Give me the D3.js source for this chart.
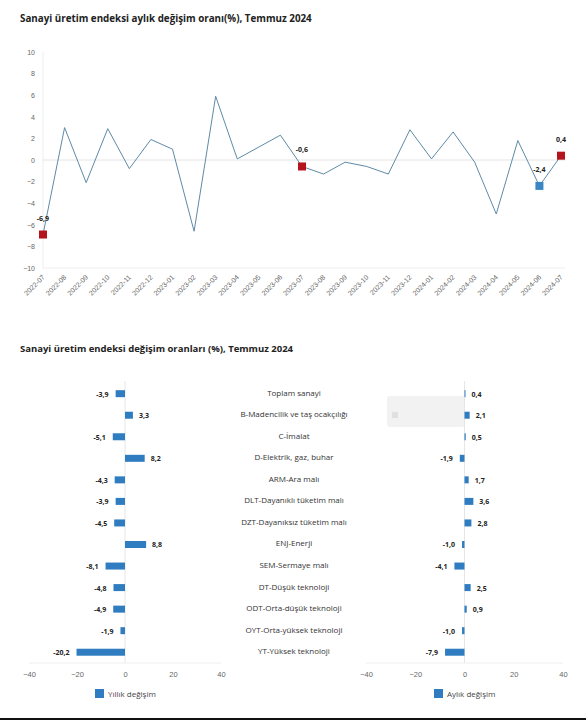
<!DOCTYPE html>
<html>
<head>
<meta charset="utf-8">
<script src="https://cdn.jsdelivr.net/npm/d3@7"></script>
<style>
  body { margin: 0; background: #fff; }
  svg { display: block; font-family: "Open Sans", "Noto Sans", sans-serif; }
</style>
</head>
<body>
<div id="chart"></div>
<script>
// monthly series (top chart)
const months = ['2022-07','2022-08','2022-09','2022-10','2022-11','2022-12','2023-01','2023-02','2023-03','2023-04','2023-05','2023-06','2023-07','2023-08','2023-09','2023-10','2023-11','2023-12','2024-01','2024-02','2024-03','2024-04','2024-05','2024-06','2024-07'];
const monthlyChange = [-6.9, 3.0, -2.1, 2.9, -0.8, 1.9, 1.0, -6.6, 5.9, 0.1, 1.2, 2.3, -0.6, -1.3, -0.2, -0.6, -1.3, 2.8, 0.1, 2.6, -0.2, -5.0, 1.8, -2.4, 0.4];
// highlighted points: month, colour
const markedMonths = ['2022-07', '2023-07', '2024-06', '2024-07'];
const markedColors = ['#b5141c', '#b5141c', '#3a85c4', '#b5141c'];
const yTicksTop = [-10, -8, -6, -4, -2, 0, 2, 4, 6, 8, 10];

// sector breakdown (bottom chart)
const sectors = ['Toplam sanayi', 'B-Madencilik ve taş ocakçılığı', 'C-İmalat', 'D-Elektrik, gaz, buhar', 'ARM-Ara malı', 'DLT-Dayanıklı tüketim malı', 'DZT-Dayanıksız tüketim malı', 'ENJ-Enerji', 'SEM-Sermaye malı', 'DT-Düşük teknoloji', 'ODT-Orta-düşük teknoloji', 'OYT-Orta-yüksek teknoloji', 'YT-Yüksek teknoloji'];
const yearly = [-3.9, 3.3, -5.1, 8.2, -4.3, -3.9, -4.5, 8.8, -8.1, -4.8, -4.9, -1.9, -20.2];
const monthly = [0.4, 2.1, 0.5, -1.9, 1.7, 3.6, 2.8, -1.0, -4.1, 2.5, 0.9, -1.0, -7.9];
const xTicksBottom = [-40, -20, 0, 20, 40];

const w = 586, h = 720;
const barColor = '#2f7dc0';
const grid = '#e6e6e6';

const fmt = d3.formatLocale({decimal: ',', thousands: '.', grouping: [3], currency: ['', ''], minus: '-'}).format('.1f');

const svg = d3.select('#chart').append('svg')
  .attr('width', w).attr('height', h);

//---------------- top line chart ----------------
svg.append('text')
  .attr('x', 20).attr('y', 22)
  .attr('font-size', 9.8).attr('font-weight', 'bold').attr('fill', '#222')
  .text('Sanayi üretim endeksi aylık değişim oranı(%), Temmuz 2024');

const x = d3.scalePoint().domain(months).range([43, 561]);
const y = d3.scaleLinear().domain([-10, 10]).range([268, 52]);

// axis lines
svg.append('line').attr('x1', 43).attr('x2', 43).attr('y1', y(10)).attr('y2', y(-10))
  .attr('stroke', '#eeeeee');
svg.append('line').attr('x1', 43).attr('x2', 565).attr('y1', y(-10)).attr('y2', y(-10))
  .attr('stroke', '#eeeeee');
svg.append('line').attr('x1', 43).attr('x2', 565).attr('y1', y(0)).attr('y2', y(0))
  .attr('stroke', '#e4e4e4');

const yAxis = svg.append('g')
  .attr('transform', 'translate(35,0)')
  .call(d3.axisLeft(y).tickValues(yTicksTop).tickSize(0).tickPadding(0));
yAxis.select('.domain').remove();
yAxis.selectAll('text').attr('font-size', 7).attr('fill', '#666').attr('font-family', null);

const xAxis = svg.append('g')
  .attr('transform', `translate(0,${y(-10) + 8})`)
  .call(d3.axisBottom(x).tickSize(0).tickPadding(0));
xAxis.select('.domain').remove();
xAxis.selectAll('text')
  .attr('font-size', 7).attr('fill', '#666').attr('font-family', null)
  .attr('text-anchor', 'end')
  .attr('dy', '0.35em')
  .attr('transform', 'rotate(-45)');

const line = d3.line()
  .x((d, i) => x(months[i]))
  .y(d => y(d));

svg.append('path')
  .datum(monthlyChange)
  .attr('d', line)
  .attr('fill', 'none')
  .attr('stroke', '#5e8aa6')
  .attr('stroke-width', 1);

markedMonths.forEach((m, k) => {
  const v = monthlyChange[months.indexOf(m)];
  svg.append('rect')
    .attr('x', x(m) - 4).attr('y', y(v) - 4)
    .attr('width', 8).attr('height', 8)
    .attr('fill', markedColors[k]);
  svg.append('text')
    .attr('x', x(m)).attr('y', y(v) - 14)
    .attr('text-anchor', 'middle')
    .attr('font-size', 7).attr('font-weight', 'bold').attr('fill', '#222')
    .text(fmt(v));
});

//---------------- bottom bar charts ----------------
svg.append('text')
  .attr('x', 20).attr('y', 352)
  .attr('font-size', 9.5).attr('font-weight', 'bold').attr('fill', '#222')
  .text('Sanayi üretim endeksi değişim oranları (%), Temmuz 2024');

const yb = d3.scaleBand().domain(sectors).range([382.9, 663]);
const xl = d3.scaleLinear().domain([-40, 40]).range([29, 221]);
const xr = d3.scaleLinear().domain([-40, 40]).range([366, 563]);
const barH = 7;

// faint leftover tooltip box
svg.append('rect')
  .attr('x', 387).attr('y', 396).attr('width', 78).attr('height', 31).attr('rx', 3)
  .attr('fill', '#f2f2f2');
svg.append('rect')
  .attr('x', 392).attr('y', 412).attr('width', 6).attr('height', 6)
  .attr('fill', '#e0e0e0');

function panel(xs, values, legend) {
  const g = svg.append('g');
  g.append('line').attr('x1', xs(0)).attr('x2', xs(0)).attr('y1', 381).attr('y2', 663)
    .attr('stroke', grid);
  g.append('line').attr('x1', xs(-40)).attr('x2', xs(40)).attr('y1', 663).attr('y2', 663)
    .attr('stroke', '#eeeeee');

  const ax = g.append('g')
    .attr('transform', 'translate(0,672)')
    .call(d3.axisBottom(xs).tickValues(xTicksBottom).tickSize(0).tickPadding(0));
  ax.select('.domain').remove();
  ax.selectAll('text').attr('font-size', 7.5).attr('fill', '#666').attr('font-family', null);

  g.selectAll('rect.bar')
    .data(values)
    .enter()
    .append('rect')
    .attr('class', 'bar')
    .attr('x', d => xs(Math.min(0, d)))
    .attr('y', (d, i) => yb(sectors[i]) + yb.bandwidth() / 2 - barH / 2)
    .attr('width', d => Math.max(1, Math.abs(xs(d) - xs(0))))
    .attr('height', barH)
    .attr('fill', barColor);

  g.selectAll('text.val')
    .data(values)
    .enter()
    .append('text')
    .attr('class', 'val')
    .attr('x', d => d < 0 ? xs(d) - 7 : xs(d) + 6)
    .attr('y', (d, i) => yb(sectors[i]) + yb.bandwidth() / 2 + 3)
    .attr('text-anchor', d => d < 0 ? 'end' : 'start')
    .attr('font-size', 7).attr('font-weight', 'bold').attr('fill', '#222')
    .text(d => fmt(d));

  const lx = xs(-40) + 66 + (xs === xr ? 2 : 0);
  g.append('rect').attr('x', lx).attr('y', 689).attr('width', 9).attr('height', 9)
    .attr('fill', barColor);
  g.append('text').attr('x', lx + 13).attr('y', 696.5)
    .attr('font-size', 8).attr('fill', '#444')
    .text(legend);
}

panel(xl, yearly, 'Yıllık değişim');
panel(xr, monthly, 'Aylık değişim');

// sector names between the panels
svg.selectAll('text.cat')
  .data(sectors)
  .enter()
  .append('text')
  .attr('class', 'cat')
  .attr('x', 294)
  .attr('y', d => yb(d) + yb.bandwidth() / 2 + 2)
  .attr('text-anchor', 'middle')
  .attr('font-size', 8).attr('fill', '#333')
  .text(d => d);

// frame line at the bottom
svg.append('line').attr('x1', 0).attr('x2', w).attr('y1', 719).attr('y2', 719)
  .attr('stroke', '#111').attr('stroke-width', 2);
</script>
</body>
</html>
